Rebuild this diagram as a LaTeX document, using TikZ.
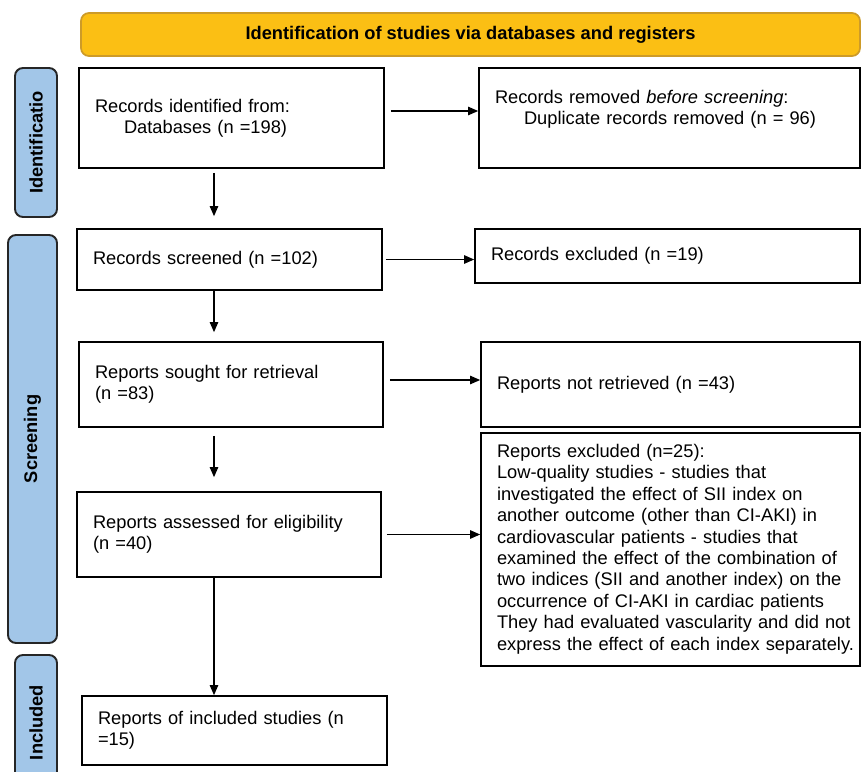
\documentclass[tikz,border=0pt]{standalone}
\usepackage{fontspec}
\setmainfont{Liberation Sans}
\usetikzlibrary{arrows.meta}
\definecolor{bannergold}{RGB}{251,191,20}
\definecolor{bannerline}{RGB}{205,155,40}
\definecolor{stageblue}{RGB}{162,198,232}

\begin{document}
\begin{tikzpicture}[
  every node/.style={font=\fontsize{10.4}{12.2}\selectfont},
  box/.style={draw,line width=1pt,align=left,inner xsep=0.32cm,inner ysep=0pt},
  stage/.style={draw=black!85,fill=stageblue,line width=1.1pt,rounded corners=0.16cm,
    rotate=90,minimum height=0.84cm,font=\fontsize{10.4}{12.2}\selectfont\bfseries},
  arr/.style={-{Triangle[length=0.2cm,width=0.17cm]},line width=0.6pt}
]
  \useasboundingbox (0,0) rectangle (17.22,-15.44);

  \node[draw=bannerline,fill=bannergold,line width=1pt,rounded corners=0.16cm,
    minimum width=15.58cm,minimum height=0.86cm,
    font=\fontsize{10.4}{12.2}\selectfont\bfseries] (head) at (9.41,-0.69)
    {Identification of studies via databases and registers};

  \node[stage,minimum width=2.98cm] (ident) at (0.72,-2.85) {Identificatio};
  \node[stage,minimum width=8.16cm,minimum height=0.98cm] (screen) at (0.65,-8.78) {Screening};
  \node[stage,minimum width=2.70cm] (inclab) at (0.72,-14.45) {Included};

  \node[box,minimum width=6.10cm,minimum height=2.00cm,text width=5.46cm] (idrec) at (4.63,-2.36)
    {Records identified from:\\\hspace*{0.58cm}Databases (n =198)};
  \node[box,minimum width=7.62cm,minimum height=2.00cm,text width=6.98cm] (rem) at (13.39,-2.36)
    {Records removed \textit{before screening}:\\\hspace*{0.58cm}Duplicate records removed (n = 96)\\\mbox{}};

  \node[box,minimum width=6.10cm,minimum height=1.22cm,text width=5.46cm] (scr) at (4.59,-5.19)
    {Records screened (n =102)};
  \node[box,minimum width=7.70cm,minimum height=1.08cm,text width=7.06cm] (exc) at (13.35,-5.12)
    {Records excluded (n =19)};

  \node[box,minimum width=6.08cm,minimum height=1.70cm,text width=5.44cm] (sought) at (4.62,-7.69)
    {Reports sought for retrieval\\(n =83)};
  \node[box,minimum width=7.58cm,minimum height=1.70cm,text width=6.94cm] (notret) at (13.41,-7.69)
    {Reports not retrieved (n =43)};

  \node[box,minimum width=6.08cm,minimum height=1.70cm,text width=5.44cm] (assess) at (4.58,-10.69)
    {Reports assessed for eligibility\\(n =40)};
  \node[box,minimum width=7.58cm,minimum height=4.66cm,text width=6.94cm] (repexc) at (13.41,-10.99)
    {\begin{tabular}{@{}l@{}}
     Reports excluded (n=25):\\
     Low-quality studies - studies that\\
     investigated the effect of SII index on\\
     another outcome (other than CI-AKI) in\\
     cardiovascular patients - studies that\\
     examined the effect of the combination of\\
     two indices (SII and another index) on the\\
     occurrence of CI-AKI in cardiac patients\\
     They had evaluated vascularity and did not\\
     express the effect of each index separately.
     \end{tabular}};

  \node[box,minimum width=6.10cm,minimum height=1.38cm,text width=5.46cm] (incl) at (4.69,-14.61)
    {Reports of included studies (n\\=15)};

  \coordinate (col) at (4.28,0);

  \draw[arr] ([yshift=-0.08cm]col |- idrec.south) -- ([yshift=0.24cm]col |- scr.north);
  \draw[arr] (col |- scr.south) -- ([yshift=0.18cm]col |- sought.north);
  \draw[arr] ([yshift=-0.16cm]col |- sought.south) -- ([yshift=0.28cm]col |- assess.north);
  \draw[arr] (col |- assess.south) -- (col |- incl.north);

  \draw[arr] ([xshift=0.12cm,yshift=0.14cm]idrec.east) -- ([yshift=0.14cm]rem.west);
  \draw[arr] ([xshift=0.06cm]scr.east) -- (scr.east -| exc.west);
  \draw[arr] ([xshift=0.12cm,yshift=0.09cm]sought.east) -- ([yshift=0.09cm]notret.west);
  \draw[arr] ([xshift=0.1cm]assess.east) -- (assess.east -| repexc.west);
\end{tikzpicture}
\end{document}
